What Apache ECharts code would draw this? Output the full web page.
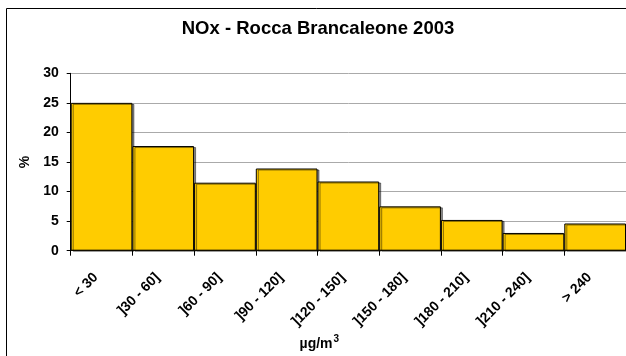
<!DOCTYPE html>
<html><head><meta charset="utf-8">
<script src="https://cdn.jsdelivr.net/npm/echarts@6/dist/echarts.min.js"></script>
<style>html,body{margin:0;padding:0;background:#fff}#c{width:626px;height:356px}</style>
</head><body><div id="c"></div>
<script>
const titleText = 'NOx - Rocca Brancaleone 2003';
const categories = ['< 30', ']30 - 60]', ']60 - 90]', ']90 - 120]', ']120 - 150]', ']150 - 180]', ']180 - 210]', ']210 - 240]', '> 240'];
const percentValues = [25.0, 17.7, 11.5, 13.9, 11.7, 7.5, 5.2, 3.0, 4.6];
const yTicks = [0, 5, 10, 15, 20, 25, 30];

const chart = echarts.init(document.getElementById('c'));
const font = 'Arial, "Liberation Sans", sans-serif';
chart.setOption({
  animation: false,
  graphic: [{ type: 'rect', shape: { x: 6.5, y: 8.5, width: 800, height: 500 }, style: { fill: 'none', stroke: '#000', lineWidth: 1 }, silent: true, z: -1 }],
  title: { text: titleText, left: 313, top: 14, textAlign: 'center', textStyle: { fontFamily: font, fontWeight: 'bold', fontSize: 18.5, color: '#000' } },
  grid: { left: 70.7, top: 73.3, width: 561.6, height: 177.4, containLabel: false },
  xAxis: {
    type: 'category', data: categories,
    axisLine: { lineStyle: { color: '#000', width: 1 } },
    axisTick: { show: true, alignWithLabel: false, length: 5, lineStyle: { color: '#000' } },
    axisLabel: { rotate: 45, interval: 0, margin: 19, padding: [0, 8, 0, 0], fontFamily: font, fontWeight: 'bold', fontSize: 14, color: '#000' },
    name: '{a|µg/m}{s|3}', nameLocation: 'middle', nameGap: 84,
    nameTextStyle: { padding: [0, 58, 0, 0], rich: { a: { fontFamily: font, fontWeight: 'bold', fontSize: 14, color: '#000' }, s: { fontFamily: font, fontWeight: 'bold', fontSize: 10, color: '#000', verticalAlign: 'top', padding: [0, 0, 8, 1] } } }
  },
  yAxis: {
    type: 'value', min: yTicks[0], max: yTicks[yTicks.length - 1], interval: 5,
    axisLine: { show: true, lineStyle: { color: '#000', width: 1 } },
    axisTick: { show: true, length: 4, lineStyle: { color: '#000' } },
    axisLabel: { margin: 12, fontFamily: font, fontWeight: 'bold', fontSize: 14, color: '#000' },
    splitLine: { lineStyle: { color: '#aaaaaa', width: 1 } },
    name: '%', nameLocation: 'middle', nameGap: 38, nameRotate: 90,
    nameTextStyle: { fontFamily: font, fontWeight: 'bold', fontSize: 14, color: '#000' }
  },
  series: [{
    type: 'bar', data: percentValues, barCategoryGap: 0,
    itemStyle: { color: '#FFCC00', borderColor: '#000', borderWidth: 1, shadowColor: 'rgba(0,0,0,0.45)', shadowOffsetX: 2, shadowOffsetY: 1, shadowBlur: 0 }
  }]
});
</script></body></html>
